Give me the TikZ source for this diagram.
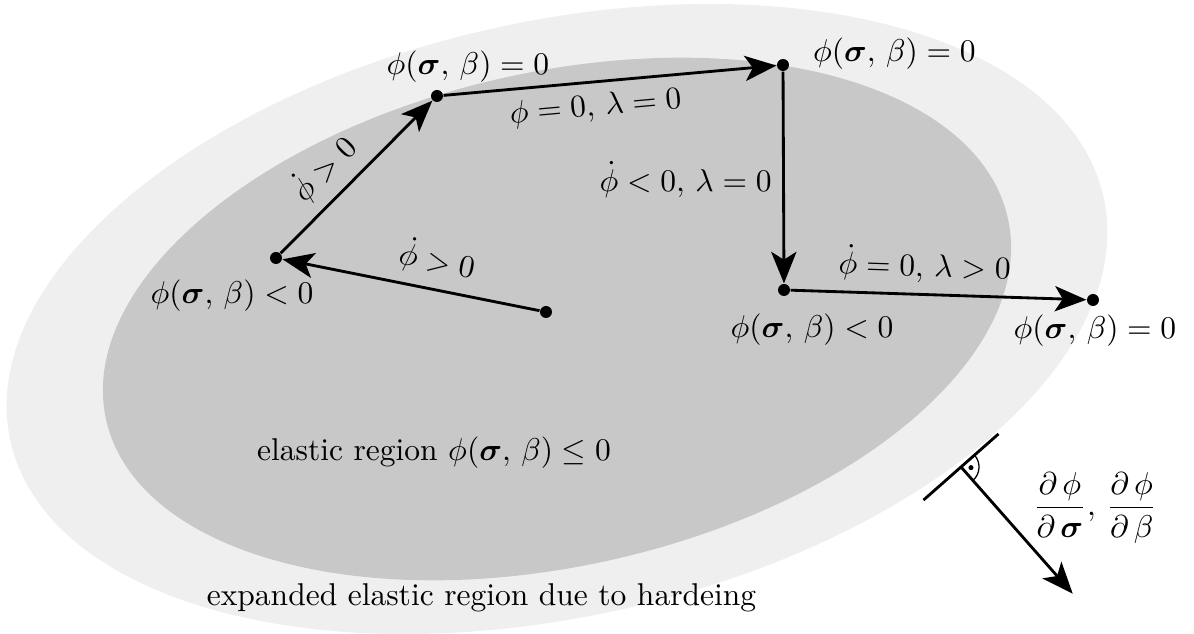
\documentclass[tikz,border=0pt]{standalone}
\definecolor{hardgray}{RGB}{239, 239, 239}
\definecolor{elasticgray}{RGB}{200, 200, 200}
\usepackage{amsmath,amssymb}
\usepackage{tikz}
\usetikzlibrary{arrows.meta, positioning, calc}

\begin{document}
\begin{tikzpicture}[x=1.115cm, y=1.115cm,
    state/.style={circle, fill=black, inner sep=0pt, minimum size=3.8pt},
    load/.style={line width=0.9pt, -{Stealth[length=10pt, width=8pt, inset=2.5pt]}}]
  \useasboundingbox (0,0) rectangle (11.94,6.34);

  %% REGIONS
  \coordinate (ctr) at (5.57,3.15);
  \fill[hardgray, rotate around={12.6:(ctr)}] (ctr) ellipse [x radius=5.60, y radius=2.975];
  \fill[elasticgray, rotate around={12.6:(ctr)}] (ctr) ellipse [x radius=4.62, y radius=2.47];
  \node (elastic) at (4.34,1.81) {elastic region $\phi(\boldsymbol{\sigma},\, \beta) \leq 0$};
  \node (expanded) at (4.815,0.36) {expanded elastic region due to hardeing};

  %% STRESS STATES
  \node[state] (s0) at (5.46,3.22) {};
  \node[state] (s1) at (2.76,3.76) {};
  \node[state] (s2) at (4.37,5.38) {};
  \node[state] (s3) at (7.83,5.69) {};
  \node[state] (s4) at (7.84,3.44) {};
  \node[state] (s5) at (10.93,3.34) {};

  \node (f1) at (2.32,3.38) {$\phi(\boldsymbol{\sigma},\, \beta) < 0$};
  \node (f2) at (4.68,5.67) {$\phi(\boldsymbol{\sigma},\, \beta) = 0$};
  \node[anchor=west] (f3) at (8.02,5.80) {$\phi(\boldsymbol{\sigma},\, \beta) = 0$};
  \node (f4) at (8.12,3.04) {$\phi(\boldsymbol{\sigma},\, \beta) < 0$};
  \node (f5) at (10.95,3.03) {$\phi(\boldsymbol{\sigma},\, \beta) = 0$};

  %% LOAD PATH
  \draw[load] (s0) -- node[pos=0.42, sloped, above] {$\dot{\phi} > 0$} (s1);
  \draw[load] (s1) -- node[pos=0.42, sloped, above] {$\dot{\phi} > 0$} (s2);
  \draw[load] (s2) -- node[pos=0.45, sloped, below] {$\phi = 0,\, \lambda = 0$} (s3);
  \draw[load] (s3) -- node[pos=0.51, left] {$\dot{\phi} < 0,\, \lambda = 0$} (s4);
  \draw[load] (s4) -- node[pos=0.45, sloped, above] {$\dot{\phi} = 0,\, \lambda > 0$} (s5);

  %% NORMAL ON THE YIELD SURFACE
  \coordinate (foot) at (9.61,1.67);
  \coordinate (tanA) at ($(foot)+(221.4:0.50)$);
  \coordinate (tanB) at ($(foot)+(41.4:0.50)$);
  \coordinate (tip) at ($(foot)+(-48.6:1.69)$);
  \draw[line width=0.9pt] (tanA) -- (tanB);
  \draw[load] (foot) -- (tip);
  \draw[thin] ($(foot)+(41.4:0.18)$) arc[start angle=41.4, end angle=-48.6, radius=0.18];
  \fill ($(foot)+(-3.6:0.10)$) circle (0.8pt);
  \node (grad) at (10.95,1.26)
    {$\dfrac{\partial\,\phi}{\partial\,\boldsymbol{\sigma}},\, \dfrac{\partial\,\phi}{\partial\,\beta}$};
\end{tikzpicture}
\end{document}
